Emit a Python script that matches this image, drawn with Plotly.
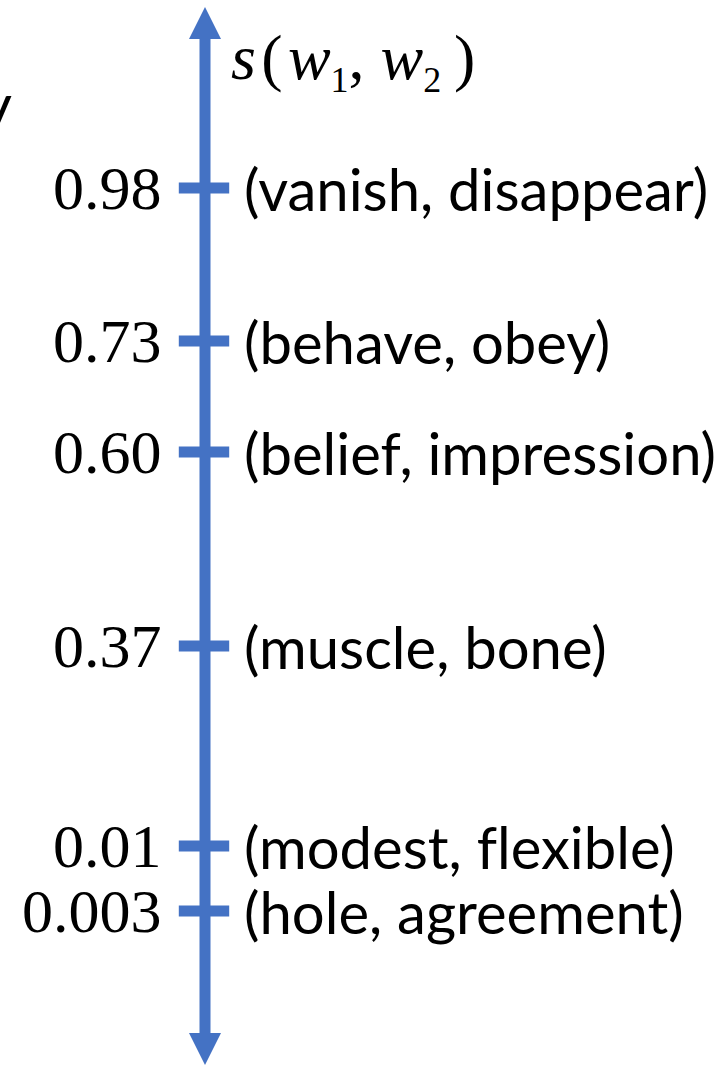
import plotly.graph_objects as go

# ---- data ----
similarity_labels = ["0.98", "0.73", "0.60", "0.37", "0.01", "0.003"]
word_pairs = ["(vanish, disappear)", "(behave, obey)", "(belief, impression)",
              "(muscle, bone)", "(modest, flexible)", "(hole, agreement)"]
# schematic level of each pair along the arrow (arrow spans 0 .. 10.6)
scale_level = [8.78, 7.25, 6.14, 4.20, 2.20, 1.55]
arrow_span = [0.01, 10.59]

BLUE = "#4472C4"
AX_X = 205

fig = go.Figure()

# shaft
fig.add_trace(go.Scatter(
    x=[AX_X, AX_X], y=[arrow_span[0] + 0.25, arrow_span[1] - 0.25],
    mode="lines", line=dict(color=BLUE, width=11), hoverinfo="skip"))
# arrow heads
fig.add_trace(go.Scatter(
    x=[AX_X], y=[arrow_span[1]], mode="markers",
    marker=dict(symbol="arrow-up", size=32, color=BLUE, line=dict(width=0)),
    hoverinfo="skip"))
fig.add_trace(go.Scatter(
    x=[AX_X], y=[arrow_span[0]], mode="markers",
    marker=dict(symbol="arrow-down", size=32, color=BLUE, line=dict(width=0)),
    hoverinfo="skip"))
# ticks
fig.add_trace(go.Scatter(
    x=[AX_X - 1] * len(scale_level), y=scale_level, mode="markers",
    marker=dict(symbol="line-ew", size=36, color=BLUE,
                line=dict(color=BLUE, width=11)),
    hoverinfo="skip"))

NOLIG = "\u200c"  # keep "fl" from forming a ligature
for lab, pair, lv in zip(similarity_labels, word_pairs, scale_level):
    fig.add_annotation(x=164, y=lv, xref="x", yref="y", text=lab,
                       showarrow=False, xanchor="right", yanchor="middle",
                       font=dict(family="Liberation Serif", size=62, color="black"))
    fig.add_annotation(x=242, y=lv, xref="x", yref="y",
                       text=pair.replace("fl", "f" + NOLIG + "l"),
                       showarrow=False, xanchor="left", yanchor="middle",
                       font=dict(family="Lato", size=58, color="black"))

# axis title
SUBSTYLE = "font-size:36px"
HAIR, THIN = "\u200a", "\u2009"
fig.add_annotation(
    x=229, y=10.05, xref="x", yref="y",
    text=("<i>s</i>" + HAIR + "(" + HAIR +
          "<i>w</i><sub><span style='%s'>1</span></sub>, "
          "<i>w</i><sub><span style='%s'>2</span></sub>" + THIN + ")")
         % (SUBSTYLE, SUBSTYLE),
    showarrow=False, xanchor="left", yanchor="middle",
    font=dict(family="Liberation Serif", size=64, color="black"))

# cropped fragment of neighbouring text at the left edge
fig.add_annotation(
    x=14, y=9.62, xref="x", yref="y", text="y",
    showarrow=False, xanchor="right", yanchor="middle",
    font=dict(family="Lato", size=60, color="black"))

fig.update_layout(
    width=717, height=1066,
    margin=dict(l=0, r=0, t=0, b=0),
    paper_bgcolor="white", plot_bgcolor="white",
    showlegend=False,
    xaxis=dict(range=[0, 717], visible=False, fixedrange=True),
    yaxis=dict(range=[0, 10.66], visible=False, fixedrange=True),
)

fig.write_html("out.html",
               config={"displayModeBar": False},
               post_script="document.body.style.margin='0px';")
